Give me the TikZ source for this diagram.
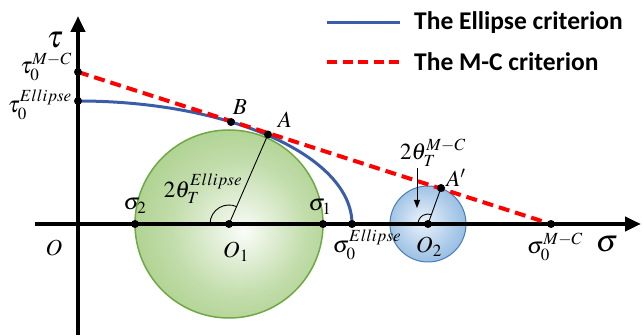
\documentclass[tikz,border=0pt]{standalone}
\usepackage{mathptmx}
\usepackage[no-math]{fontspec}
\newfontfamily\legfont{Carlito}
\usetikzlibrary{arrows.meta}
\definecolor{ellblau}{HTML}{3A5DA8}
\definecolor{mcrot}{HTML}{FF0000}
\definecolor{gruen}{HTML}{84BA56}
\definecolor{gruenr}{HTML}{6FA845}
\definecolor{blau}{HTML}{5C98D4}
\definecolor{blaur}{HTML}{4A7DB3}
\pgfdeclareradialshading{gruenball}{\pgfpoint{4bp}{-2bp}}{color(0bp)=(white!96!gruen);color(18bp)=(white!50!gruen);color(50bp)=(gruen)}
\pgfdeclareradialshading{blauball}{\pgfpoint{-4bp}{2bp}}{color(0bp)=(white!88!blau);color(22bp)=(white!45!blau);color(50bp)=(blau)}
\tikzset{
  ax/.style={-{Triangle[length=16pt,width=14pt]},black,line width=4pt},
  ell/.style={ellblau,line width=3pt},
  mc/.style={mcrot,line width=4pt,dash pattern=on 11pt off 6pt},
  duenn/.style={black,line width=0.9pt},
  kreisg/.style={shading=gruenball,draw=gruenr,line width=1.5pt},
  kreisb/.style={shading=blauball,draw=blaur,line width=1pt},
  dot/.style={circle,fill=black,inner sep=0pt,minimum size=8pt},
  lab/.style={font=\fontsize{23}{26}\selectfont,inner sep=0pt},
  axlab/.style={font=\fontsize{31}{34}\selectfont,inner sep=0pt},
  leg/.style={font=\legfont\bfseries\fontsize{25.5}{27}\selectfont,anchor=west,inner sep=0pt},
}
\begin{document}
\begin{tikzpicture}[x=1pt,y=1pt]
  \useasboundingbox (0,0) rectangle (643,336);
  \coordinate (O) at (78,112);
  \coordinate (O1) at (229,112);
  \coordinate (O2) at (428,112);
  \coordinate (s2) at (135,112);
  \coordinate (s1) at (323,112);
  \coordinate (sE) at (352,112);
  \coordinate (sMC) at (551,112);
  \coordinate (tE) at (78,235);
  \coordinate (tMC) at (78,264);
  \coordinate (B) at (231,214);
  \coordinate (A) at (268,201.5);
  \coordinate (A2) at (441,148);
  % Mohr circles
  \shadedraw[kreisg] (O1) circle[radius=94pt];
  \shadedraw[kreisb] (O2) circle[radius=38pt];
  % axes
  \coordinate (xa) at (35,112); \coordinate (xe) at (641,112);
  \coordinate (ya) at (78,1); \coordinate (ye) at (78,320);
  \draw[ax] (xa) -- (xe);
  \draw[ax] (ya) -- (ye);
  % radii and angles
  \draw[duenn] (O1) -- (A);
  \draw[duenn] (O2) -- (A2);
  \draw[duenn] ([xshift=-19pt]O1) arc[start angle=180,end angle=66,radius=19pt];
  \draw[duenn] ([xshift=-10pt]O2) arc[start angle=180,end angle=70,radius=10pt];
  % criteria
  \draw[ell] (tE) arc[start angle=90,end angle=0,x radius=274pt,y radius=123pt];
  \draw[mc] (tMC) -- (sMC);
  % points
  \foreach \p in {O1,O2,s1,s2,sE,sMC,tE,tMC,B,A,A2}
    \node[dot] at (\p) {};
  % labels
  \node[axlab] (tau) at (55,296) {$\tau$};
  \node[axlab] (sig) at (607,92) {$\sigma$};
  \node[lab,anchor=east] (ltMC) at (72,269) {$\tau_0^{M-C}$};
  \node[lab,anchor=east] (ltE) at (72,231) {$\tau_0^{Ellipse}$};
  \node[lab] (lO) at (54,88) {$O$};
  \node[lab] (lO1) at (236,84) {$O_1$};
  \node[lab] (lO2) at (429,89) {$O_2$};
  \node[lab] (ls2) at (135,130) {$\sigma_2$};
  \node[lab] (ls1) at (320,129) {$\sigma_1$};
  \node[lab] (lsE) at (367,91) {$\sigma_0^{Ellipse}$};
  \node[lab] (lsMC) at (555,89) {$\sigma_0^{M-C}$};
  \node[lab] (lB) at (240,229) {$B$};
  \node[lab] (lA) at (285,216) {$A$};
  \node[lab] (lA2) at (456,158) {$A'$};
  \node[lab] (th1) at (203,147) {$2\theta_T^{Ellipse}$};
  \node[lab] (th2) at (433,183) {$2\theta_T^{M-C}$};
  \coordinate (pa) at (417,168); \coordinate (pe) at (417,128);
  \draw[duenn,-{Triangle[length=8pt,width=6pt]}] (pa) -- (pe);
  % legend
  \coordinate (l1a) at (327,313); \coordinate (l1b) at (400,313);
  \coordinate (l2a) at (327,274); \coordinate (l2b) at (400,274);
  \draw[ell] (l1a) -- (l1b);
  \draw[mcrot,line width=4pt,dash pattern=on 10pt off 5.5pt] (l2a) -- (l2b);
  \node[leg] (leg1) at (414,313) {The Ellipse criterion};
  \node[leg] (leg2) at (414,274) {The M-C criterion};
\end{tikzpicture}
\end{document}
